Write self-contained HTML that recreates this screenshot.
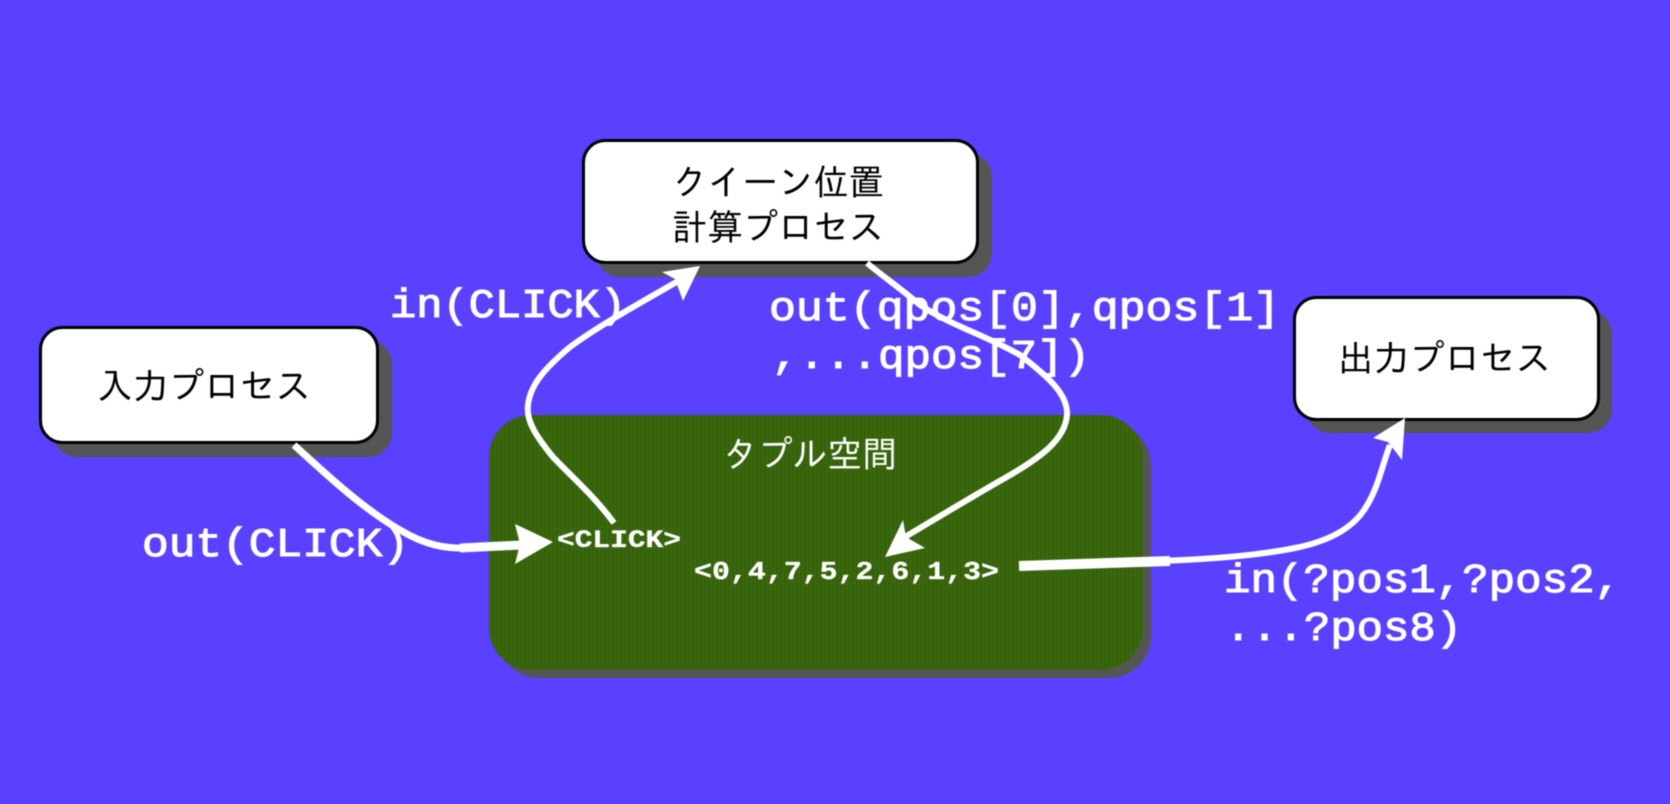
<!DOCTYPE html>
<html lang="ja">
<head>
<meta charset="utf-8">
<title>Diagram</title>
<style>
html,body{margin:0;padding:0;width:1670px;height:804px;overflow:hidden;background:#5a40ff}
svg{display:block;filter:blur(0.55px)}
.jp{font-family:"Liberation Sans","IPAGothic","Noto Sans CJK JP",sans-serif;font-size:36px}
.m{font-family:"Liberation Mono","Liberation Serif",monospace;font-weight:normal;fill:#fff;stroke:#fff;stroke-width:1.1px}
.b{font-weight:bold;stroke-width:.3px}
.ln{fill:none;stroke:#fff;stroke-linecap:butt;stroke-linejoin:round}
</style>
</head>
<body>
<svg width="1670" height="804" viewBox="0 0 1670 804" xmlns="http://www.w3.org/2000/svg">
<defs>
<pattern id="g" width="4" height="4" patternUnits="userSpaceOnUse">
<rect width="4" height="4" fill="#3a6a0c"/>
<rect x="0" width="2" height="4" fill="#35600e"/>
</pattern>
</defs>
<rect width="1670" height="804" fill="#5a40ff"/>

<!-- tuple space -->
<rect x="497" y="423" width="654" height="255" rx="42" fill="#555"/>
<rect x="489" y="415" width="654" height="255" rx="42" fill="url(#g)"/>

<!-- shadows -->
<rect x="53" y="340" width="339" height="117" rx="24" fill="#555"/>
<rect x="596" y="153" width="396" height="124" rx="24" fill="#555"/>
<rect x="1306" y="310" width="306" height="123" rx="24" fill="#555"/>

<!-- boxes -->
<rect x="40.5" y="327.5" width="337" height="115" rx="22" fill="#fff" stroke="#000" stroke-width="3"/>
<rect x="583.5" y="140.5" width="394" height="122" rx="22" fill="#fff" stroke="#000" stroke-width="3"/>
<rect x="1294.5" y="297.5" width="304" height="122" rx="22" fill="#fff" stroke="#000" stroke-width="3"/>

<!-- box labels -->
<text class="jp" x="97" y="399" textLength="214" lengthAdjust="spacingAndGlyphs" fill="#000">入力プロセス</text>
<text class="jp" x="672" y="195" textLength="212" lengthAdjust="spacingAndGlyphs" fill="#000">クイーン位置</text>
<text class="jp" x="672" y="240" textLength="212" lengthAdjust="spacingAndGlyphs" fill="#000">計算プロセス</text>
<text class="jp" x="1338" y="371" textLength="213" lengthAdjust="spacingAndGlyphs" fill="#000">出力プロセス</text>
<text class="jp" x="723" y="467" textLength="174" lengthAdjust="spacingAndGlyphs" fill="#fff">タプル空間</text>

<!-- mono labels -->
<text class="m" font-size="41" x="390" y="317" textLength="236" lengthAdjust="spacingAndGlyphs">in(CLICK)</text>
<text class="m" font-size="41" x="142" y="556" textLength="267" lengthAdjust="spacingAndGlyphs">out(CLICK)</text>
<text class="m" font-size="41" x="769" y="320" textLength="511" lengthAdjust="spacingAndGlyphs">out(qpos[0],qpos[1]</text>
<text class="m" font-size="41" x="772" y="368" textLength="318" lengthAdjust="spacingAndGlyphs">,...qpos[7])</text>
<text class="m" font-size="41" x="1224" y="592" textLength="397" lengthAdjust="spacingAndGlyphs">in(?pos1,?pos2,</text>
<text class="m" font-size="41" x="1225" y="640" textLength="237" lengthAdjust="spacingAndGlyphs">...?pos8)</text>
<text class="m b" font-size="25" x="557" y="547" textLength="124" lengthAdjust="spacingAndGlyphs">&lt;CLICK&gt;</text>
<text class="m b" font-size="26" x="694" y="579" textLength="305" lengthAdjust="spacingAndGlyphs">&lt;0,4,7,5,2,6,1,3&gt;</text>

<!-- connector A -->
<path class="ln" stroke-width="7" d="M294 445 C330 478 365 510 400 530 C425 545 445 549 470 548"/>
<path class="ln" stroke-width="9" d="M460 548 L522 545"/>
<polygon fill="#fff" points="553,542 515,524 520,544 515,564"/>

<!-- connector B -->
<path class="ln" stroke-width="6" d="M614 523 C595 497 575 480 553 457 C535 435 526 420 528 405 C530 385 545 368 570 347 C600 325 640 303 680 280"/>
<polygon fill="#fff" points="700,266 662,272 675,279 683,301"/>

<!-- connector C -->
<path class="ln" stroke-width="6" d="M867 263 C885 278 900 288 920 305 C950 325 985 335 1020 355 C1050 378 1068 395 1067 415 C1065 440 1040 458 1005 478 C975 495 950 510 900 540"/>
<polygon fill="#fff" points="885,557 903,520 906,537 925,548"/>

<!-- connector D -->
<path class="ln" stroke-width="6" d="M1160 561 C1210 559 1255 556 1295 548 C1330 541 1352 528 1364 510 C1378 490 1382 465 1390 445"/>
<path class="ln" stroke-width="10" d="M1019 566 L1170 561"/>
<polygon fill="#fff" points="1405,418 1373,438 1388,442 1402,460"/>
</svg>
</body>
</html>
